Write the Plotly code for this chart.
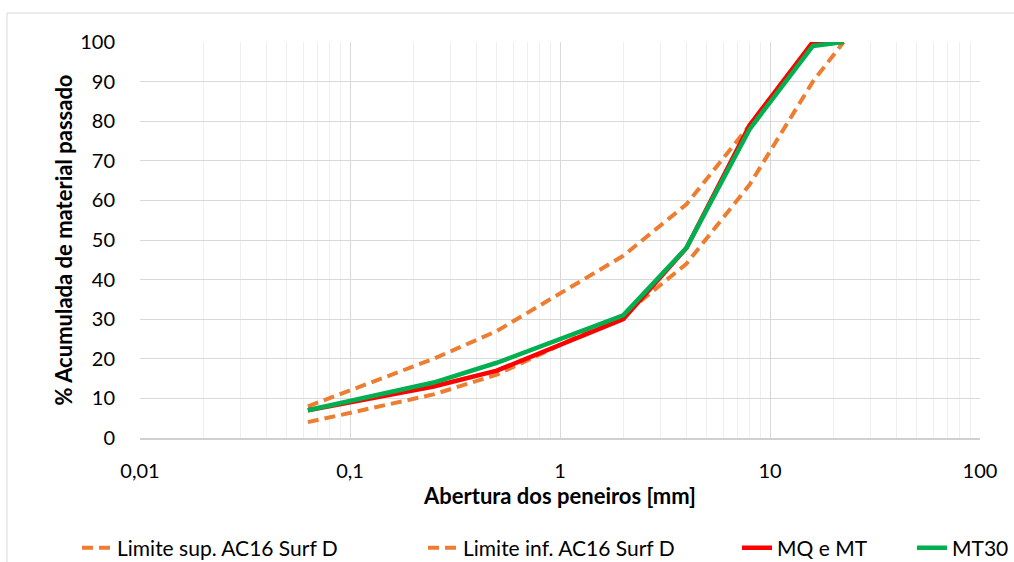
import plotly.graph_objects as go

# Sieve openings (mm)
abertura = [0.063, 0.25, 0.5, 2, 4, 8, 16, 22.4]
# Cumulative % passing
limite_sup = [8, 20, 27, 46, 59, 79, 100, 100]
limite_inf = [4, 11, 16, 31, 44, 64, 90, 100]
mq_e_mt = [7, 13, 17, 30, 48, 79, 100, 100]
mt30 = [7, 14, 19, 31, 48, 78, 99, 100]

x_tickvals = [0.01, 0.1, 1, 10, 100]
x_ticktext = ["0,01", "0,1", "1", "10", "100"]
minor_vals = [m * 10.0 ** k for k in range(-2, 2) for m in range(2, 10)]

FONT = "Lato"
ORANGE = "#ED7D31"
RED = "#FF0000"
GREEN = "#00B050"

fig = go.Figure()
fig.add_trace(go.Scatter(x=abertura, y=limite_sup, mode="lines", name="Limite sup. AC16 Surf D",
                         line=dict(color=ORANGE, width=4, dash="11px,6px"), legend="legend"))
fig.add_trace(go.Scatter(x=abertura, y=limite_inf, mode="lines", name="Limite inf. AC16 Surf D",
                         line=dict(color=ORANGE, width=4, dash="11px,6px"), legend="legend2"))
fig.add_trace(go.Scatter(x=abertura, y=mq_e_mt, mode="lines", name="MQ e MT",
                         line=dict(color=RED, width=4.5), legend="legend3"))
fig.add_trace(go.Scatter(x=abertura, y=mt30, mode="lines", name="MT30",
                         line=dict(color=GREEN, width=4.5), legend="legend4"))

leg_common = dict(orientation="h", xref="container", yref="container", xanchor="left",
                  yanchor="middle", y=1 - 548 / 562, font=dict(family=FONT, size=21, color="#000"),
                  bgcolor="rgba(0,0,0,0)")

fig.update_layout(
    width=1014, height=562,
    margin=dict(l=140, r=34, t=42, b=124),
    paper_bgcolor="white", plot_bgcolor="white",
    font=dict(family=FONT, size=20, color="#000"),
    showlegend=True,
    legend=dict(x=77 / 1014, **leg_common),
    legend2=dict(x=423 / 1014, **leg_common),
    legend3=dict(x=737 / 1014, **leg_common),
    legend4=dict(x=912 / 1014, **leg_common),
    xaxis=dict(
        type="log", range=[-2, 2],
        tickvals=x_tickvals, ticktext=x_ticktext,
        ticks="outside", ticklen=14, tickcolor="rgba(0,0,0,0)",
        showgrid=True, gridcolor="#d9d9d9", gridwidth=1.3,
        minor=dict(tickvals=minor_vals, showgrid=True, gridcolor="#efefef", gridwidth=1.3, ticks=""),
        showline=True, linecolor="#d0d0d0", linewidth=1.5,
        zeroline=False,
        tickfont=dict(family=FONT, size=20),
        title=dict(text="<b>Abertura dos peneiros [mm]</b>", font=dict(family=FONT, size=22), standoff=8),
    ),
    yaxis=dict(
        range=[0, 100], dtick=10,
        ticks="outside", ticklen=20, tickcolor="rgba(0,0,0,0)",
        showgrid=True, gridcolor="#d9d9d9", gridwidth=1.3,
        zeroline=False, showline=False,
        tickfont=dict(family=FONT, size=20),
        title=dict(text="<b>% Acumulada de material passado</b>", font=dict(family=FONT, size=22), standoff=1),
    ),
    shapes=[dict(type="rect", xref="paper", yref="paper",
                 x0=(7 - 140) / 840, x1=(1020 - 140) / 840,
                 y0=(438 - 570) / 396, y1=(438 - 13) / 396,
                 line=dict(color="#d9d9d9", width=1), layer="below")],
)

fig.write_html("out.html")
